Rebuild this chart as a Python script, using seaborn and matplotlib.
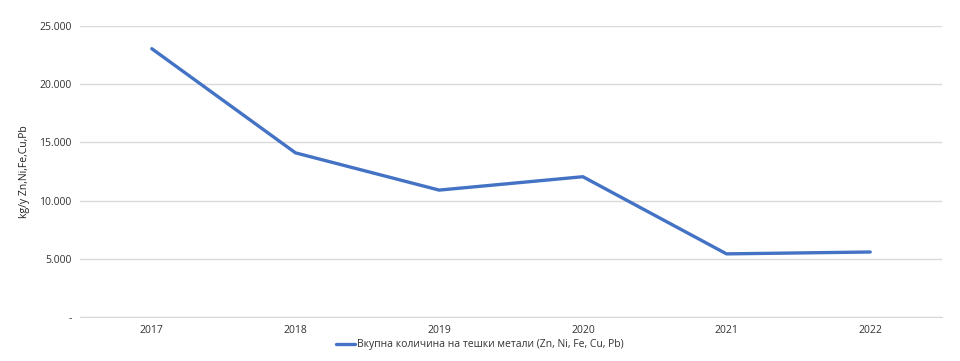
import matplotlib
matplotlib.use('Agg')
import matplotlib.pyplot as plt
import seaborn as sns
import pandas as pd
from matplotlib.ticker import FuncFormatter

years = ['2017', '2018', '2019', '2020', '2021', '2022']
totals = [23050, 14100, 10900, 12050, 5420, 5580]
series_name = 'Вкупна количина на тешки метали (Zn, Ni, Fe, Cu, Pb)'

df = pd.DataFrame({'year': years, 'total': totals})

sns.set_style('white')
plt.rcParams['font.family'] = ['Open Sans', 'DejaVu Sans']

fig = plt.figure(figsize=(9.6, 3.61), dpi=100)
ax = fig.add_axes([0.0833, 0.122, 0.898, 0.806])

sns.lineplot(data=df, x='year', y='total', ax=ax, color='#4472C4',
             linewidth=2.4, label=series_name, legend=False)

ax.set_xlim(-0.5, len(years) - 0.5)
ax.set_ylim(0, 25000)
ax.set_yticks(range(0, 25001, 5000))
ax.yaxis.set_major_formatter(FuncFormatter(
    lambda v, _: '-' if v == 0 else f'{int(v):,}'.replace(',', '.')))
ax.grid(axis='y', color='#d9d9d9', linewidth=1)
ax.set_axisbelow(True)
for side in ['top', 'right', 'left']:
    ax.spines[side].set_visible(False)
ax.spines['bottom'].set_color('#d9d9d9')
ax.tick_params(axis='both', length=0, labelsize=7.5, colors='#333333', pad=6)
ax.set_xlabel('')
ax.set_ylabel('kg/y Zn,Ni,Fe,Cu,Pb', fontsize=7.5, color='#202020', labelpad=7)

handles, labels = ax.get_legend_handles_labels()
fig.legend(handles, labels, loc='center', bbox_to_anchor=(0.5, 0.045),
           frameon=False, fontsize=7.5, handlelength=1.8, handletextpad=0.2,
           labelcolor='#333333')

fig.savefig('out.png', dpi=100)
